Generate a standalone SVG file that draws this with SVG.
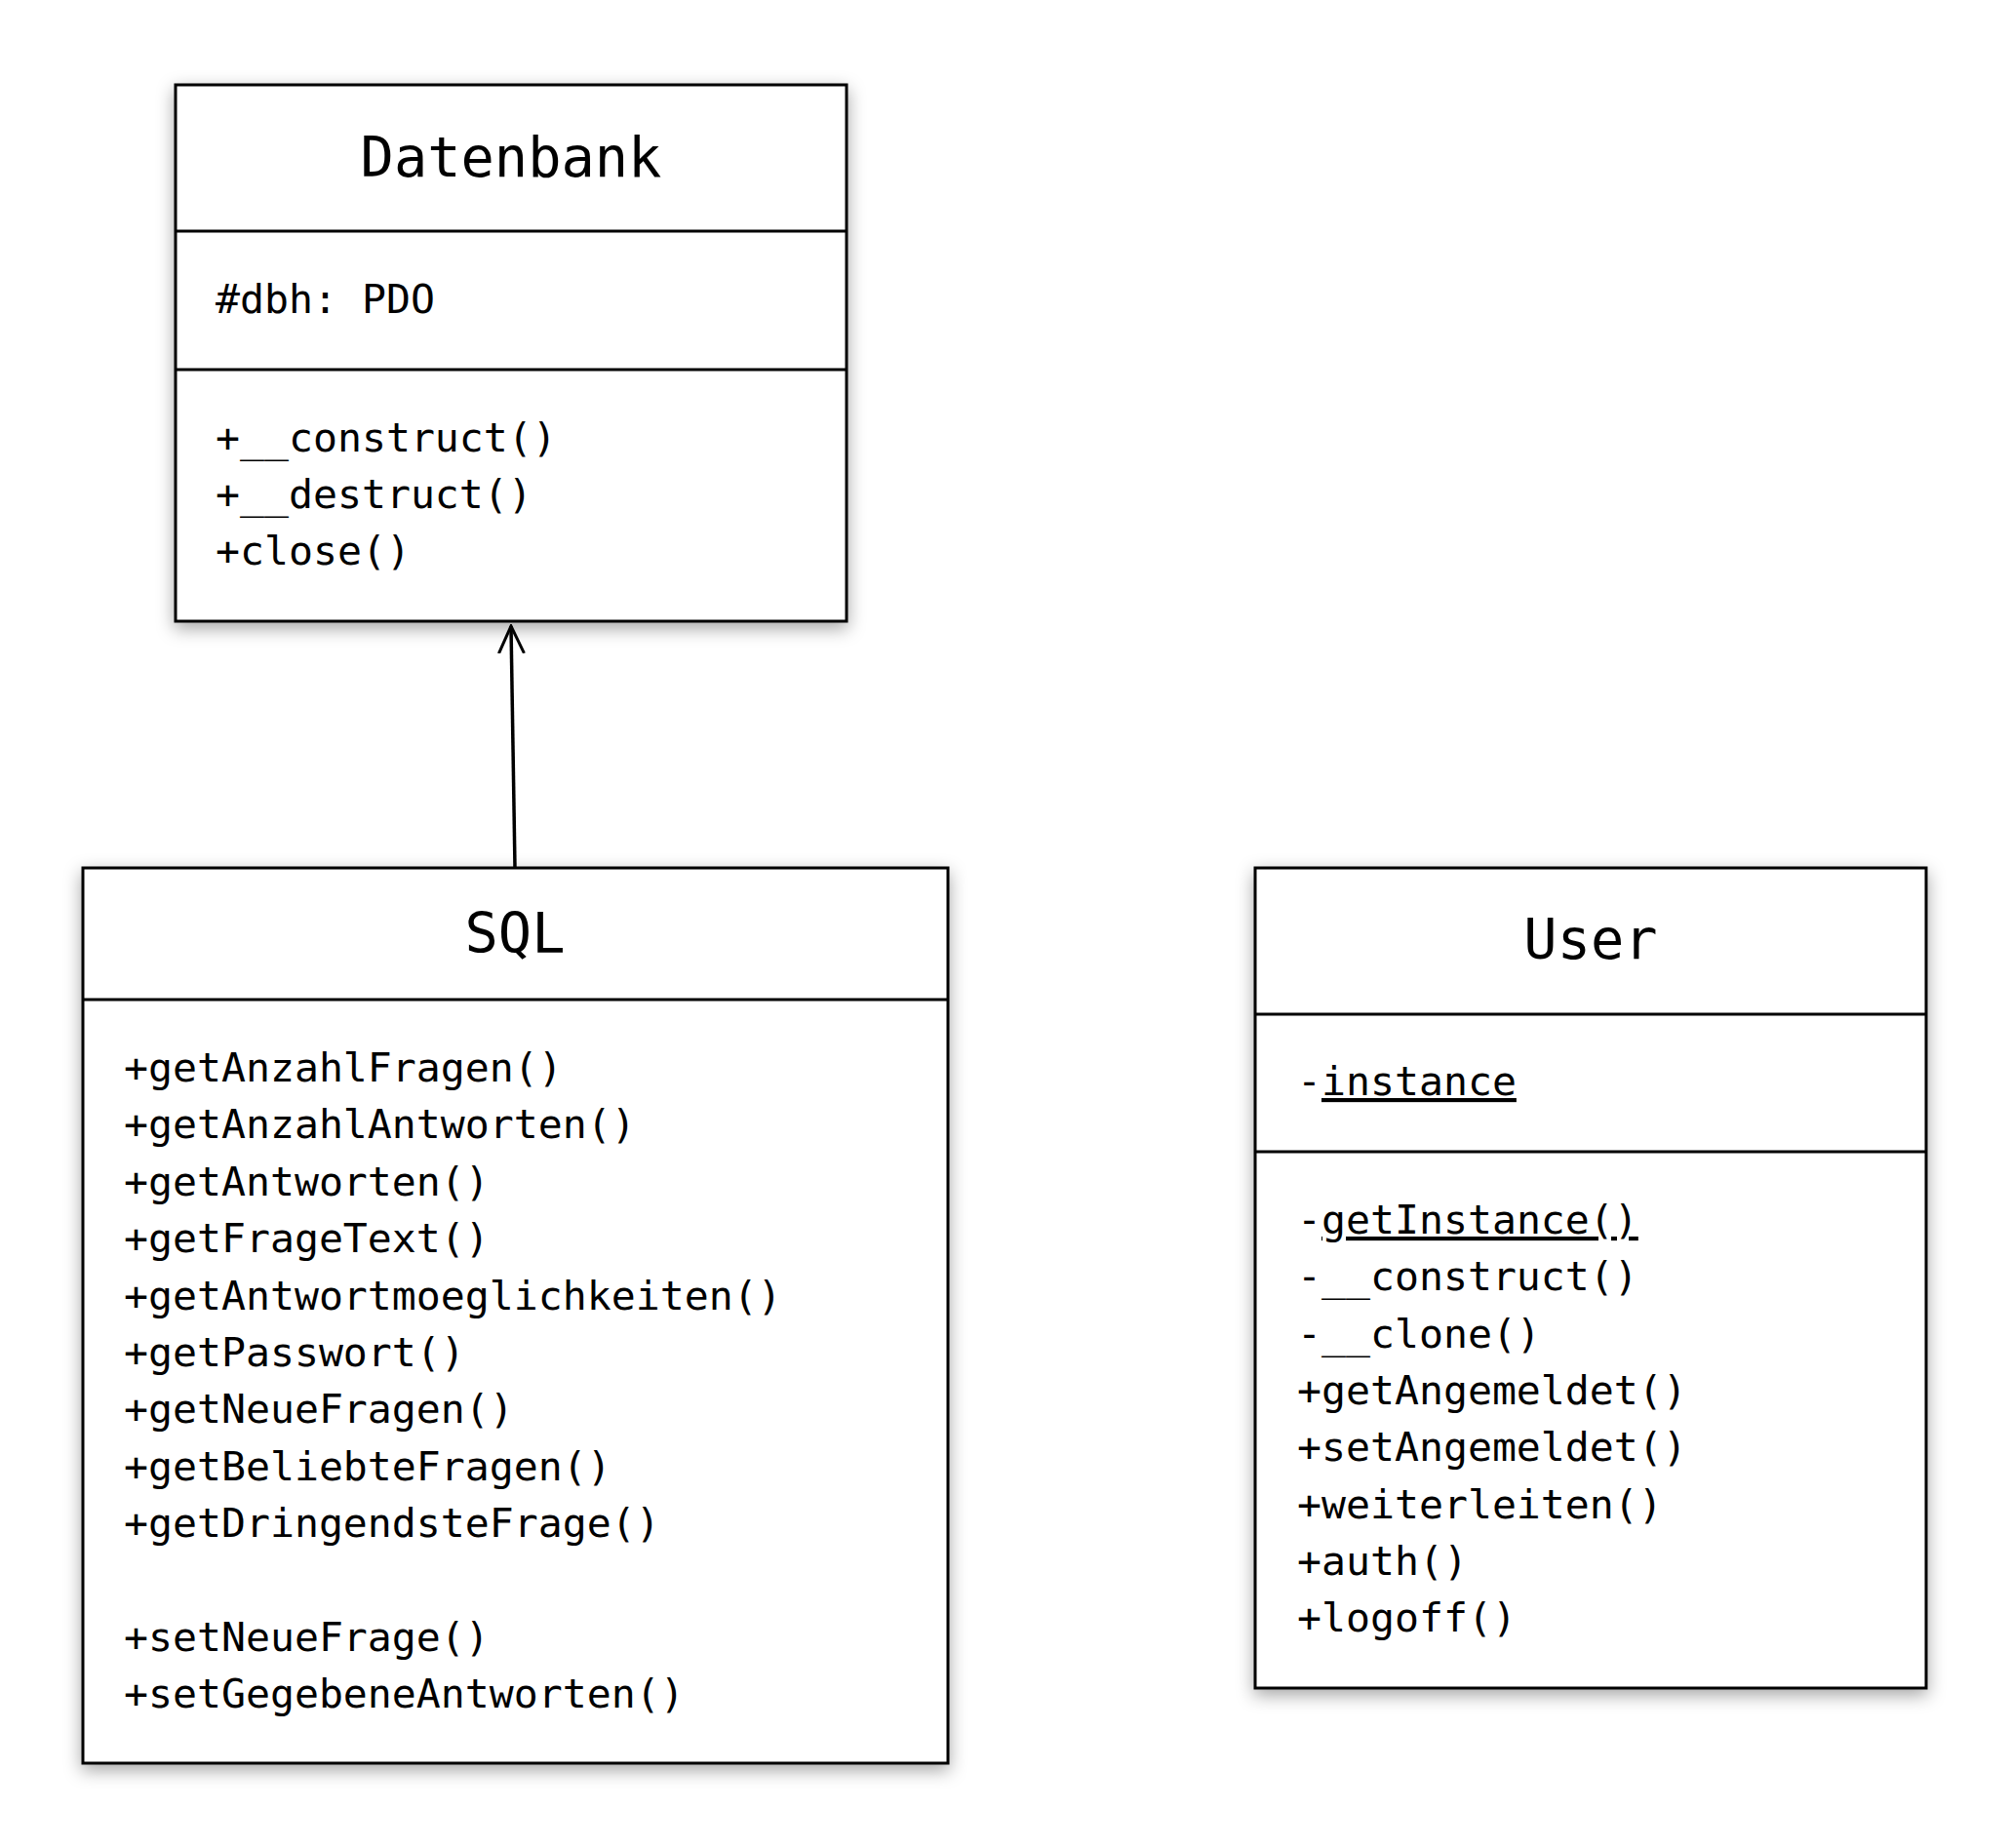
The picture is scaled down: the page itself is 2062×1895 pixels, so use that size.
<svg xmlns="http://www.w3.org/2000/svg" width="2062" height="1895" viewBox="0 0 2062 1895">
<defs>
<filter id="sh" x="-10%" y="-10%" width="120%" height="125%">
<feDropShadow dx="0" dy="6" stdDeviation="9" flood-color="#000" flood-opacity="0.35"/>
</filter>
<marker id="open" viewBox="0 0 30 30" refX="28" refY="15" markerWidth="30" markerHeight="30" markerUnits="userSpaceOnUse" orient="auto">
<path d="M0,2 L28,15 L0,28" fill="none" stroke="#000" stroke-width="3"/>
</marker>
</defs>
<style>
.box{fill:#fff;stroke:#000;stroke-width:3;filter:url(#sh)}
.div{stroke:#000;stroke-width:3}
.title{font-family:"DejaVu Sans Mono","Liberation Mono",monospace;font-size:57px;fill:#000;text-anchor:middle}
.m{font-family:"DejaVu Sans Mono","Liberation Mono",monospace;font-size:41.5px;fill:#000}
.u{text-decoration:underline}
</style>
<rect width="2062" height="1895" fill="#fff"/>
<g id="connectors">
<line x1="528" y1="890" x2="524" y2="642" stroke="#000" stroke-width="3.5" marker-end="url(#open)"/>
</g>
<g id="Datenbank">
<rect class="box" x="180" y="87" width="688" height="550"/>
<line class="div" x1="180" y1="237" x2="868" y2="237"/>
<line class="div" x1="180" y1="379" x2="868" y2="379"/>
<text class="title" x="524" y="181">Datenbank</text>
<text class="m" x="221" y="321">#dbh: PDO</text>
<text class="m" x="221" y="463">+__construct()</text>
<text class="m" x="221" y="521">+__destruct()</text>
<text class="m" x="221" y="579">+close()</text>
</g>
<g id="SQL">
<rect class="box" x="85" y="890" width="887" height="918"/>
<line class="div" x1="85" y1="1025" x2="972" y2="1025"/>
<text class="title" x="528" y="977">SQL</text>
<text class="m" x="127" y="1109">+getAnzahlFragen()</text>
<text class="m" x="127" y="1167">+getAnzahlAntworten()</text>
<text class="m" x="127" y="1226">+getAntworten()</text>
<text class="m" x="127" y="1284">+getFrageText()</text>
<text class="m" x="127" y="1343">+getAntwortmoeglichkeiten()</text>
<text class="m" x="127" y="1401">+getPasswort()</text>
<text class="m" x="127" y="1459">+getNeueFragen()</text>
<text class="m" x="127" y="1518">+getBeliebteFragen()</text>
<text class="m" x="127" y="1576">+getDringendsteFrage()</text>
<text class="m" x="127" y="1693">+setNeueFrage()</text>
<text class="m" x="127" y="1751">+setGegebeneAntworten()</text>
</g>
<g id="User">
<rect class="box" x="1287" y="890" width="688" height="841"/>
<line class="div" x1="1287" y1="1040" x2="1975" y2="1040"/>
<line class="div" x1="1287" y1="1181" x2="1975" y2="1181"/>
<text class="title" x="1631" y="983">User</text>
<text class="m" x="1330" y="1123">-<tspan class="u">instance</tspan></text>
<text class="m" x="1330" y="1265">-<tspan class="u">getInstance()</tspan></text>
<text class="m" x="1330" y="1323">-__construct()</text>
<text class="m" x="1330" y="1382">-__clone()</text>
<text class="m" x="1330" y="1440">+getAngemeldet()</text>
<text class="m" x="1330" y="1498">+setAngemeldet()</text>
<text class="m" x="1330" y="1557">+weiterleiten()</text>
<text class="m" x="1330" y="1615">+auth()</text>
<text class="m" x="1330" y="1673">+logoff()</text>
</g>
</svg>
